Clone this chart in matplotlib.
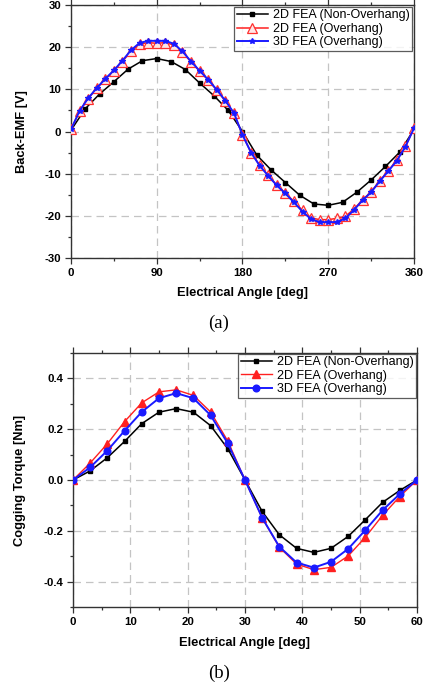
import matplotlib
matplotlib.use("Agg")
import matplotlib.pyplot as plt
from matplotlib.ticker import MultipleLocator, FormatStrFormatter

# ---------------- data: Back-EMF ----------------
emf_angle_black = [0, 15, 30, 45, 60, 75, 90, 105, 120, 135, 150, 165, 180,
                   195, 210, 225, 240, 255, 270, 285, 300, 315, 330, 345, 360]
emf_black = [0.3, 5.4, 8.9, 11.8, 14.8, 16.8, 17.3, 16.6, 14.7, 11.5, 8.5, 5.0, 0.0,
             -5.6, -9.1, -12.1, -15.1, -17.2, -17.5, -16.8, -14.4, -11.5, -8.3, -4.9, 0.5]

emf_angle_fine = [0, 9, 18, 27, 36, 45, 54, 63, 72, 81, 90, 99, 108, 117, 126, 135,
                  144, 153, 162, 171, 180, 189, 198, 207, 216, 225, 234, 243, 252,
                  261, 270, 279, 288, 297, 306, 315, 324, 333, 342, 351, 360]
emf_red = [0.5, 4.8, 7.8, 10.2, 12.4, 14.4, 16.6, 19.0, 20.7, 21.1, 20.9, 21.1, 20.5,
           18.8, 16.5, 14.3, 12.2, 9.8, 7.2, 4.3, -0.8, -5.0, -8.0, -10.4, -12.7,
           -14.6, -16.6, -18.7, -20.5, -20.9, -20.9, -20.6, -20.1, -18.4, -16.2,
           -14.3, -11.7, -9.3, -6.8, -3.5, 0.8]
emf_blue = [0.5, 4.9, 7.9, 10.3, 12.5, 14.5, 16.8, 19.3, 21.0, 21.5, 21.5, 21.5, 20.8,
            19.0, 16.6, 14.4, 12.3, 9.9, 7.3, 4.4, -0.8, -5.0, -8.1, -10.5, -12.8,
            -14.7, -16.8, -19.0, -20.8, -21.5, -21.5, -21.5, -20.6, -18.6, -16.3,
            -14.4, -11.8, -9.4, -6.9, -3.6, 0.8]

# ---------------- data: Cogging torque ----------------
cog_angle = [0, 3, 6, 9, 12, 15, 18, 21, 24, 27, 30, 33, 36, 39, 42, 45, 48, 51, 54, 57, 60]
cog_black = [0, 0.036, 0.088, 0.152, 0.222, 0.267, 0.281, 0.267, 0.214, 0.123, 0.0,
             -0.124, -0.216, -0.269, -0.285, -0.269, -0.222, -0.156, -0.088, -0.041, 0.0]
cog_red = [0, 0.067, 0.143, 0.230, 0.304, 0.347, 0.355, 0.333, 0.268, 0.153, 0.0,
           -0.150, -0.265, -0.331, -0.353, -0.344, -0.299, -0.225, -0.139, -0.065, 0.0]
cog_blue = [0, 0.050, 0.116, 0.194, 0.268, 0.322, 0.342, 0.322, 0.255, 0.144, 0.0,
            -0.149, -0.263, -0.325, -0.345, -0.322, -0.271, -0.197, -0.119, -0.055, 0.0]

labels = ["2D FEA (Non-Overhang)", "2D FEA (Overhang)", "3D FEA (Overhang)"]

plt.rcParams['font.family'] = ['Liberation Sans', 'DejaVu Sans']
plt.rcParams['axes.unicode_minus'] = False

fig = plt.figure(figsize=(4.27, 6.89), dpi=100)
ax1 = fig.add_axes([71/427, 1-258/689, 343/427, 253/689])
ax2 = fig.add_axes([73/427, 1-607/689, 344/427, 254/689])

GRID = dict(color='#c4c4c4', linestyle=(0, (6, 4)), linewidth=0.9)


def style(ax, xmaj, xmin, ymaj, ymin):
    ax.xaxis.set_major_locator(MultipleLocator(xmaj))
    ax.xaxis.set_minor_locator(MultipleLocator(xmin))
    ax.yaxis.set_major_locator(MultipleLocator(ymaj))
    ax.yaxis.set_minor_locator(MultipleLocator(ymin))
    ax.tick_params(which='both', direction='out', top=True, right=False,
                   labeltop=False, width=0.9, colors='#333333', labelcolor='black')
    ax.tick_params(which='major', length=4, labelsize=8.2)
    ax.tick_params(axis='x', which='major', pad=3.5)
    ax.tick_params(axis='y', which='major', pad=3)
    ax.tick_params(which='minor', length=2.2)
    for lab in ax.get_xticklabels() + ax.get_yticklabels():
        lab.set_fontweight('bold')
    for s in ax.spines.values():
        s.set_linewidth(1.0)
        s.set_color('#333333')
    ax.grid(True, which='major', **GRID)
    ax.set_axisbelow(True)


LEG = dict(loc='upper right', fontsize=9, frameon=True, fancybox=False,
           edgecolor='#333333', handlelength=2.5, borderpad=0.2,
           labelspacing=0.12, handletextpad=0.4)

# ---- top: Back-EMF ----
ax1.plot(emf_angle_black, emf_black, color='black', lw=1.1, marker='s', ms=2.3,
         label=labels[0], zorder=3)
ax1.plot(emf_angle_fine, emf_red, color='#ff2020', lw=1.1, marker='^', ms=6.5,
         mfc='#ffe6e6', mec='#ff3030', mew=0.9, label=labels[1], zorder=4)
ax1.plot(emf_angle_fine, emf_blue, color='#1a1aff', lw=1.4, marker='*', ms=3.8,
         label=labels[2], zorder=5)
ax1.set_xlim(0, 360)
ax1.set_ylim(-30, 30)
style(ax1, 90, 45, 10, 5)
ax1.set_xlabel("Electrical Angle [deg]", fontsize=9.3, fontweight='bold', va='center')
ax1.xaxis.set_label_coords(0.5, -35/253)
ax1.set_ylabel("Back-EMF [V]", fontsize=9.3, fontweight='bold', va='center')
ax1.yaxis.set_label_coords((22-71)/343, 0.5)
leg1 = ax1.legend(borderaxespad=0.15, **LEG)
leg1.get_frame().set_linewidth(0.9)

# ---- bottom: Cogging torque ----
ax2.plot(cog_angle, cog_black, color='black', lw=1.1, marker='s', ms=2.3,
         label=labels[0], zorder=3)
ax2.plot(cog_angle, cog_red, color='#ff2020', lw=1.0, marker='^', ms=5.5,
         label=labels[1], zorder=4)
ax2.plot(cog_angle, cog_blue, color='#1a1aff', lw=1.4, marker='o', ms=4.8,
         label=labels[2], zorder=5)
ax2.set_xlim(0, 60)
ax2.set_ylim(-0.5, 0.5)
style(ax2, 10, 5, 0.2, 0.1)
ax2.yaxis.set_major_formatter(FormatStrFormatter('%.1f'))
for lab in ax2.get_yticklabels():
    lab.set_fontweight('bold')
ax2.set_xlabel("Electrical Angle [deg]", fontsize=9.3, fontweight='bold', va='center')
ax2.xaxis.set_label_coords(0.5, -36/254)
ax2.set_ylabel("Cogging Torque [Nm]", fontsize=9.3, fontweight='bold', va='center')
ax2.yaxis.set_label_coords((20-73)/344, 0.5)
leg2 = ax2.legend(borderaxespad=0.05, **LEG)
leg2.get_frame().set_linewidth(0.9)

fig.text(219/427, 1-323/689, "(a)", ha='center', va='center', fontsize=13.5,
         family=['Liberation Serif', 'DejaVu Serif'])
fig.text(219/427, 1-673/689, "(b)", ha='center', va='center', fontsize=13.5,
         family=['Liberation Serif', 'DejaVu Serif'])

fig.savefig("out.png", dpi=100, facecolor='white')
